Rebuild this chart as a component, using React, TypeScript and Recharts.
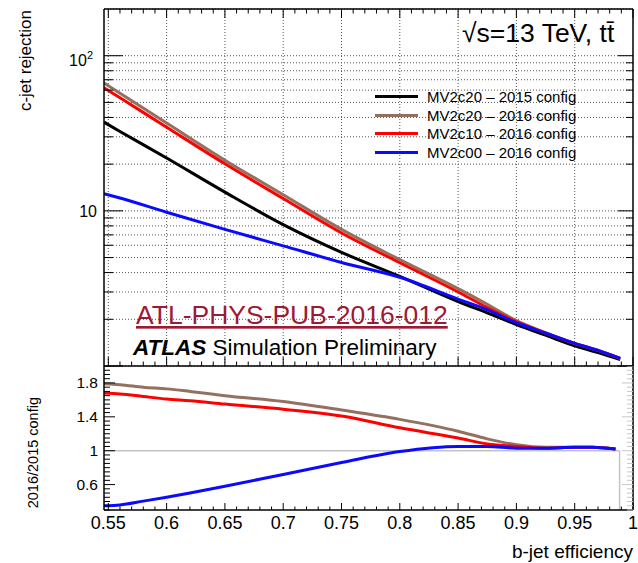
import React from "react";
import { LineChart, Line, XAxis, YAxis, CartesianGrid, ReferenceLine, Legend } from "recharts";

const effX = [0.5463, 0.56, 0.6, 0.65, 0.7, 0.75, 0.8, 0.85, 0.875, 0.9, 0.925, 0.95, 0.97, 0.989];
const mv2c20_2015 = [37.3, 32.5, 21.9, 13.2, 8.15, 5.4, 3.78, 2.6, 2.2, 1.85, 1.58, 1.35, 1.22, 1.1];
const mv2c20_2016 = [66.7, 57.3, 36.8, 21.2, 12.7, 7.6, 4.85, 3.15, 2.5, 1.96, 1.64, 1.4, 1.26, 1.12];
const mv2c10_2016 = [62.2, 53.6, 34.6, 20.1, 12.0, 7.2, 4.63, 3.0, 2.38, 1.93, 1.63, 1.4, 1.26, 1.12];
const mv2c00_2016 = [12.9, 12.1, 9.8, 7.6, 5.95, 4.65, 3.73, 2.7, 2.3, 1.9, 1.63, 1.4, 1.26, 1.12];

// ratio panel (2016 / 2015 config)
const ratioX = [0.5463, 0.56, 0.58, 0.6, 0.62, 0.65, 0.7, 0.75, 0.8, 0.85, 0.875, 0.9, 0.925, 0.95, 0.965, 0.985];
const ratioC20 = [1.79, 1.78, 1.75, 1.73, 1.7, 1.65, 1.58, 1.48, 1.37, 1.23, 1.14, 1.07, 1.04, 1.04, 1.04, 1.02];
const ratioC10 = [1.68, 1.67, 1.64, 1.61, 1.59, 1.55, 1.49, 1.41, 1.27, 1.15, 1.08, 1.05, 1.03, 1.04, 1.04, 1.02];
const ratioC00 = [0.35, 0.36, 0.405, 0.45, 0.5, 0.58, 0.72, 0.86, 0.99, 1.05, 1.05, 1.03, 1.03, 1.04, 1.04, 1.02];

const legendNames = ["MV2c20 \u2013 2015 config", "MV2c20 \u2013 2016 config", "MV2c10 \u2013 2016 config", "MV2c00 \u2013 2016 config"];
const seriesKeys = ["c20_2015", "c20_2016", "c10_2016", "c00_2016"];
const seriesColors = ["#000000", "#93705f", "#ff0000", "#0a0aff"];

const majorX = [0.55, 0.6, 0.65, 0.7, 0.75, 0.8, 0.85, 0.9, 0.95, 1];
const xLabels = ["0.55", "0.6", "0.65", "0.7", "0.75", "0.8", "0.85", "0.9", "0.95", "1"];
const minorX: number[] = [];
for (let i = 55; i <= 100; i++) minorX.push(i / 100);

const logTicks = [1, 2, 3, 4, 5, 6, 7, 8, 9, 10, 20, 30, 40, 50, 60, 70, 80, 90, 100];
const ratioTicks: number[] = [];
for (let i = 6; i <= 40; i++) ratioTicks.push(i / 20);
const ratioMajor = [0.6, 1, 1.4, 1.8];
const ratioLabels = ["0.6", "1", "1.4", "1.8"];

const X_DOMAIN: [number, number] = [0.5463, 1];
const RATIO_END = 0.9885;

const FONT = "'Liberation Sans', Arial, Helvetica, sans-serif";

const topData = effX.map((x, i) => ({
  x,
  c20_2015: mv2c20_2015[i],
  c20_2016: mv2c20_2016[i],
  c10_2016: mv2c10_2016[i],
  c00_2016: mv2c00_2016[i],
}));

const ratioData = ratioX.map((x, i) => ({
  x,
  c20_2016: ratioC20[i],
  c10_2016: ratioC10[i],
  c00_2016: ratioC00[i],
}));

const near = (a: number, b: number) => Math.abs(a - b) < 1e-6;

// inward ROOT-style ticks on the x axes
const xTick = (dir: number, majorLen: number, minorLen: number, withLabels: boolean) => (props: any) => {
  const { x, y, payload } = props;
  const idx = majorX.findIndex((m) => near(m, payload.value));
  const len = idx >= 0 ? majorLen : minorLen;
  return (
    <g>
      <line x1={x} x2={x} y1={y} y2={y + dir * len} stroke="#000" strokeWidth={1} />
      {withLabels && idx >= 0 && (
        <text x={x} y={y + 18.5} textAnchor="middle" fontSize={18} fontFamily={FONT} fill="#000">
          {xLabels[idx]}
        </text>
      )}
    </g>
  );
};

const logTick = (dir: number, majorLen: number, minorLen: number, withLabels: boolean) => (props: any) => {
  const { x, y, payload } = props;
  const v = payload.value;
  const isMajor = v === 1 || v === 10 || v === 100;
  const len = isMajor ? majorLen : minorLen;
  return (
    <g>
      <line x1={x} x2={x + dir * len} y1={y} y2={y} stroke="#000" strokeWidth={1} />
      {withLabels && v === 10 && (
        <text x={x - 7} y={y + 6} textAnchor="end" fontSize={16} fontFamily={FONT} fill="#000">
          10
        </text>
      )}
      {withLabels && v === 100 && (
        <text x={x - 11} y={y + 10} textAnchor="end" fontSize={16} fontFamily={FONT} fill="#000">
          10
          <tspan dy={-7} fontSize={11}>
            2
          </tspan>
        </text>
      )}
    </g>
  );
};

const ratioTick = (dir: number, color: string, withLabels: boolean) => (props: any) => {
  const { x, y, payload } = props;
  const idx = ratioMajor.findIndex((m) => near(m, payload.value));
  const len = idx >= 0 ? 11 : 6;
  return (
    <g>
      <line x1={x} x2={x + dir * len} y1={y} y2={y} stroke={color} strokeWidth={1} />
      {withLabels && idx >= 0 && (
        <text x={x - 6} y={y + 5.5} textAnchor="end" fontSize={15.5} fontFamily={FONT} fill="#000">
          {ratioLabels[idx]}
        </text>
      )}
    </g>
  );
};

const renderLegend = () => (
  <div style={{ fontFamily: FONT }}>
    {legendNames.map((name, i) => (
      <div key={name} style={{ display: "flex", alignItems: "center", height: 18.5 }}>
        <span style={{ display: "inline-block", width: 43, height: 3, background: seriesColors[i], marginRight: 9 }} />
        <span style={{ fontSize: 15, color: "#000", whiteSpace: "nowrap" }}>{name}</span>
      </div>
    ))}
  </div>
);

export default function App() {
  const axisLine = { stroke: "#000", strokeWidth: 1.5 };
  return (
    <div style={{ position: "absolute", left: 0, top: 0, width: 638, height: 563, background: "#fff", overflow: "hidden" }}>
      <div style={{ position: "absolute", left: 0, top: 0 }}>
        <LineChart width={638} height={370} data={topData} margin={{ top: 8, right: 4, bottom: 3, left: 0 }}>
          <CartesianGrid xAxisId="b" yAxisId="l" vertical={false} stroke="#555" strokeDasharray="1 2" />
          <XAxis xAxisId="b" dataKey="x" type="number" domain={X_DOMAIN} allowDataOverflow ticks={minorX} interval={0}
            height={1} tickSize={0} tickMargin={0} axisLine={axisLine} tick={xTick(-1, 9, 4.5, false)} />
          <XAxis xAxisId="t" orientation="top" dataKey="x" type="number" domain={X_DOMAIN} allowDataOverflow ticks={minorX} interval={0}
            height={1} tickSize={0} tickMargin={0} axisLine={axisLine} tick={xTick(1, 9, 4.5, false)} />
          <YAxis yAxisId="l" type="number" scale="log" domain={[1, 200]} allowDataOverflow ticks={logTicks} interval={0}
            width={104} tickSize={0} tickMargin={0} axisLine={axisLine} tick={logTick(1, 19, 9, true)} />
          <YAxis yAxisId="r" orientation="right" type="number" scale="log" domain={[1, 200]} allowDataOverflow ticks={logTicks} interval={0}
            width={1} tickSize={0} tickMargin={0} axisLine={axisLine} tick={logTick(-1, 15, 7, false)} />
          {majorX.slice(0, -1).map((v) => (
            <ReferenceLine key={v} xAxisId="b" yAxisId="l" x={v} stroke="#555" strokeDasharray="1 2" />
          ))}
          {seriesKeys.map((k, i) => (
            <Line key={k} xAxisId="b" yAxisId="l" dataKey={k} type="monotone" stroke={seriesColors[i]} strokeWidth={3}
              dot={false} isAnimationActive={false} />
          ))}
          <Legend layout="horizontal" verticalAlign="middle" align="center" content={renderLegend}
            wrapperStyle={{ left: 375, top: 87.5, width: 240, height: 76 }} />
        </LineChart>
      </div>
      <div style={{ position: "absolute", left: 0, top: 366 }}>
        <LineChart width={638} height={197} data={ratioData} margin={{ top: 0, right: 4, bottom: 52, left: 0 }}>
          <XAxis xAxisId="b" dataKey="x" type="number" domain={X_DOMAIN} allowDataOverflow ticks={minorX} interval={0}
            height={1} tickSize={0} tickMargin={0} axisLine={axisLine} tick={xTick(-1, 7, 3.5, true)} />
          <YAxis yAxisId="l" type="number" domain={[0.3, 2]} allowDataOverflow ticks={ratioTicks} interval={0}
            width={104} tickSize={0} tickMargin={0} axisLine={axisLine} tick={ratioTick(1, "#000", true)} />
          <YAxis yAxisId="r" orientation="right" type="number" domain={[0.3, 2]} allowDataOverflow ticks={ratioTicks} interval={0}
            width={1} tickSize={0} tickMargin={0} axisLine={axisLine} tick={ratioTick(-1, "#c8c8c8", false)} />
          <ReferenceLine xAxisId="b" yAxisId="l" segment={[{ x: X_DOMAIN[0], y: 1 }, { x: RATIO_END, y: 1 }]} stroke="#c4c4c4" strokeWidth={1.5} />
          <ReferenceLine xAxisId="b" yAxisId="l" segment={[{ x: RATIO_END, y: 1 }, { x: RATIO_END, y: 0.3 }]} stroke="#c4c4c4" strokeWidth={1.5} />
          {seriesKeys.slice(1).map((k, i) => (
            <Line key={k} xAxisId="b" yAxisId="l" dataKey={k} type="monotone" stroke={seriesColors[i + 1]} strokeWidth={3}
              dot={false} isAnimationActive={false} />
          ))}
        </LineChart>
      </div>
      <svg width={638} height={563} style={{ position: "absolute", left: 0, top: 0, pointerEvents: "none" }} fontFamily={FONT}>
        <text transform="translate(31,10) rotate(-90)" textAnchor="end" fontSize={17}>c-jet rejection</text>
        <text transform="translate(38,397) rotate(-90)" textAnchor="end" fontSize={14.5}>2016/2015 config</text>
        <text x={633} y={558} textAnchor="end" fontSize={19}>b-jet efficiency</text>
        <text x={462} y={42} fontSize={26.5}>{"\u221As=13 TeV, tt\u0304"}</text>
        <text x={136} y={324} fontSize={26.5} fill="#9e1a33" textDecoration="underline">ATL-PHYS-PUB-2016-012</text>
        <text x={133} y={355} fontSize={22.5}>
          <tspan fontWeight="bold" fontStyle="italic">ATLAS</tspan>
          <tspan> Simulation Preliminary</tspan>
        </text>
      </svg>
    </div>
  );
}
